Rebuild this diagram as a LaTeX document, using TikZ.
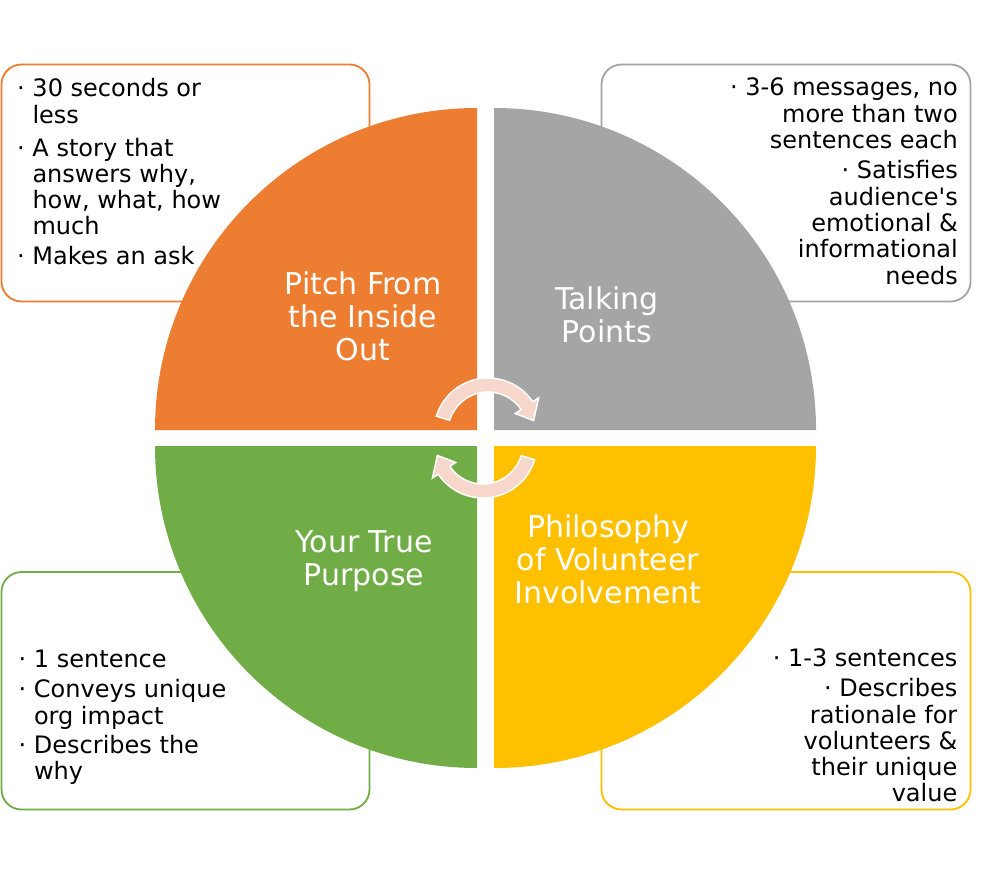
\documentclass[tikz,border=0pt]{standalone}
\usepackage{fontspec}
\setmainfont{DejaVu Sans}
\usetikzlibrary{calc}
\definecolor{qorange}{HTML}{ED7D31}
\definecolor{qgray}{HTML}{A5A5A5}
\definecolor{qgreen}{HTML}{70AD47}
\definecolor{qyellow}{HTML}{FFC000}
\definecolor{arrowpink}{HTML}{F7D6CB}
\newcommand\bul{\makebox[15.3pt][l]{·}}
\newcommand\ind{\hspace*{15.3pt}}
\begin{document}
\begin{tikzpicture}[x=1pt,y=-1pt,
  infobox/.style={line width=1.8pt, rounded corners=20pt, fill=white},
  boxtext/.style={inner sep=0pt, text=black, font=\fontsize{24}{26.3}\selectfont},
  qlabel/.style={inner sep=0pt, text=white, align=center, font=\fontsize{30}{33}\selectfont},
  cyclearrow/.style={fill=arrowpink, draw=white, line width=1.5pt, line join=miter}]
\useasboundingbox (0,0) rectangle (981,874);
\fill[white] (0,0) rectangle (981,874);

% info boxes (behind the circle)
\draw[infobox, draw=qorange] (1.5,64.5) rectangle (369.5,301.5);
\draw[infobox, draw=qgray] (601.5,64.5) rectangle (970.5,301.5);
\draw[infobox, draw=qgreen] (1.5,572) rectangle (369.5,809.5);
\draw[infobox, draw=qyellow] (601.5,572) rectangle (970.5,809.5);

% quadrant centres
\coordinate (cTL) at (477,430);
\coordinate (cTR) at (494,430);
\coordinate (cBL) at (477,446);
\coordinate (cBR) at (494,446);

\fill[qorange] (cTL) -- ++(-322,0) arc[start angle=180, end angle=270, radius=322] -- cycle;
\fill[qgray] (cTR) -- ++(0,-322) arc[start angle=270, end angle=360, radius=322] -- cycle;
\fill[qgreen] (cBL) -- ++(-322,0) arc[start angle=180, end angle=90, radius=322] -- cycle;
\fill[qyellow] (cBR) -- ++(322,0) arc[start angle=0, end angle=90, radius=322] -- cycle;

% quadrant labels
\node[qlabel] (pitch) at (363,316) {Pitch From\\the Inside\\Out};
\node[qlabel] (talking) at (607,315) {Talking\\Points};
\node[qlabel] (purpose) at (364,561) {Your True\\Purpose};
\node[qlabel] (philo) at (608,559) {Philosophy\\of Volunteer\\Involvement};

% box texts
\node[boxtext, anchor=base west] (tltext) at (17,97) {\begin{tabular}[t]{@{}l@{}}
\bul 30 seconds or\\ \ind less\\[6.5pt]
\bul A story that\\ \ind answers why,\\ \ind how, what, how\\ \ind much\\[3.7pt]
\bul Makes an ask\end{tabular}};
\node[boxtext, anchor=base east] (trtext) at (958,96) {\begin{tabular}[t]{@{}r@{}}
\bul 3-6 messages, no\\ more than two\\ sentences each\\[4pt]
\bul Satisfies\\ audience\textquotesingle s\\ emotional \&\\ informational\\ needs\end{tabular}};
\node[boxtext, anchor=base west] (bltext) at (18.5,667) {\begin{tabular}[t]{@{}l@{}}
\bul 1 sentence\\[4.5pt]
\bul Conveys unique\\ \ind org impact\\[3pt]
\bul Describes the\\ \ind why\end{tabular}};
\node[boxtext, anchor=base east] (brtext) at (957.5,666) {\begin{tabular}[t]{@{}r@{}}
\bul 1-3 sentences\\[4.4pt]
\bul Describes\\ rationale for\\ volunteers \&\\ their unique\\ value\end{tabular}};

% cycle arrows
\coordinate (aT) at (488,432);
\coordinate (aB) at (483,444);
\draw[cyclearrow] ($(aT)+(-163:54)$) arc[start angle=-163, end angle=-34, radius=54]
  -- ($(aT)+(-34:61)$) -- ($(aT)+(-14:47)$) -- ($(aT)+(-34:33)$) -- ($(aT)+(-34:40)$)
  arc[start angle=-34, end angle=-163, radius=40] -- cycle;
\draw[cyclearrow] ($(aB)+(17:54)$) arc[start angle=17, end angle=146, radius=54]
  -- ($(aB)+(146:61)$) -- ($(aB)+(166:47)$) -- ($(aB)+(146:33)$) -- ($(aB)+(146:40)$)
  arc[start angle=146, end angle=17, radius=40] -- cycle;
\end{tikzpicture}
\end{document}
